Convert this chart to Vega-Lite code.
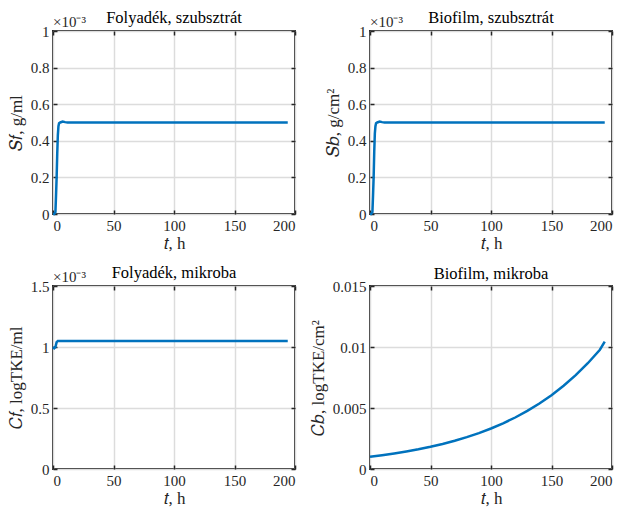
{
  "$schema": "https://vega.github.io/schema/vega-lite/v6.json",
  "padding": {"left": 6, "top": 8, "right": 5, "bottom": 5},
  "background": "white",
  "datasets": {
    "sf": [
      {"t": 0, "v": 0}, {"t": 1, "v": 0}, {"t": 2, "v": 0.00001}, {"t": 2.5, "v": 0.0001}, {"t": 3, "v": 0.0002},
      {"t": 3.5, "v": 0.00033}, {"t": 4, "v": 0.00043}, {"t": 4.5, "v": 0.00048}, {"t": 5, "v": 0.000496},
      {"t": 6, "v": 0.0005}, {"t": 8, "v": 0.000505}, {"t": 10, "v": 0.000502}, {"t": 12, "v": 0.0005},
      {"t": 50, "v": 0.0005}, {"t": 100, "v": 0.0005}, {"t": 150, "v": 0.0005}, {"t": 194, "v": 0.0005}
    ],
    "sb": [
      {"t": 0, "v": 0}, {"t": 1, "v": 0}, {"t": 2, "v": 0.00001}, {"t": 2.5, "v": 0.0001}, {"t": 3, "v": 0.0002},
      {"t": 3.5, "v": 0.00034}, {"t": 4, "v": 0.00044}, {"t": 4.5, "v": 0.00048}, {"t": 5, "v": 0.000496},
      {"t": 6, "v": 0.0005}, {"t": 8, "v": 0.000505}, {"t": 10, "v": 0.000502}, {"t": 12, "v": 0.0005},
      {"t": 50, "v": 0.0005}, {"t": 100, "v": 0.0005}, {"t": 150, "v": 0.0005}, {"t": 194, "v": 0.0005}
    ],
    "cf": [
      {"t": 0, "v": 0.001}, {"t": 1, "v": 0.00099}, {"t": 2, "v": 0.001}, {"t": 3, "v": 0.00104},
      {"t": 4, "v": 0.00105}, {"t": 6, "v": 0.00105}, {"t": 50, "v": 0.00105}, {"t": 100, "v": 0.00105},
      {"t": 150, "v": 0.00105}, {"t": 194, "v": 0.00105}
    ],
    "cb": [
      {"t": 0, "v": 0.001}, {"t": 10, "v": 0.001127}, {"t": 20, "v": 0.001271}, {"t": 30, "v": 0.001433},
      {"t": 40, "v": 0.001616}, {"t": 50, "v": 0.001822}, {"t": 60, "v": 0.002054}, {"t": 70, "v": 0.002316},
      {"t": 80, "v": 0.002612}, {"t": 90, "v": 0.002945}, {"t": 100, "v": 0.00332}, {"t": 110, "v": 0.003743},
      {"t": 120, "v": 0.004221}, {"t": 130, "v": 0.004759}, {"t": 140, "v": 0.005366}, {"t": 150, "v": 0.00605},
      {"t": 160, "v": 0.006821}, {"t": 170, "v": 0.007691}, {"t": 180, "v": 0.008671}, {"t": 190, "v": 0.009777},
      {"t": 194, "v": 0.01045}
    ],
    "exp": [{"t": 0, "v": 0.001, "label": "×10⁻³"}],
    "exp15": [{"t": 0, "v": 0.0015, "label": "×10⁻³"}],
    "none": [{"t": 0, "v": 0.015, "label": ""}]
  },
  "columns": 2,
  "spacing": {"row": 72, "column": 75},
  "bounds": "flush",
  "concat": [
    {
      "width": 242, "height": 183,
      "title": "Folyadék, szubsztrát",
      "resolve": {"axis": {"x": "independent", "y": "independent"}},
      "layer": [
        {
          "data": {"name": "sf"},
          "mark": {"type": "line", "color": "#0072BD", "strokeWidth": 2.5},
          "encoding": {
            "x": {"field": "t", "type": "quantitative", "scale": {"domain": [0, 200], "nice": false}, "axis": {"values": [0, 50, 100, 150, 200], "title": "𝑡, h"}},
            "y": {"field": "v", "type": "quantitative", "scale": {"domain": [0, 0.001], "nice": false}, "axis": {"values": [0, 0.0002, 0.0004, 0.0006, 0.0008, 0.001], "labelExpr": "format(datum.value*1000, '~g')", "title": "𝑆𝑓, g/ml"}}
          }
        },
        {
          "data": {"name": "exp"},
          "mark": {"type": "text", "align": "left", "baseline": "bottom", "dy": -1, "fontSize": 15, "color": "#262626"},
          "encoding": {
            "x": {"field": "t", "type": "quantitative", "axis": {"orient": "top", "labels": false, "grid": false, "title": null, "values": [0, 50, 100, 150, 200]}},
            "y": {"field": "v", "type": "quantitative", "axis": {"orient": "right", "labels": false, "grid": false, "title": null, "values": [0, 0.0002, 0.0004, 0.0006, 0.0008, 0.001]}},
            "text": {"field": "label"}
          }
        }
      ]
    },
    {
      "width": 242, "height": 183,
      "title": "Biofilm, szubsztrát",
      "resolve": {"axis": {"x": "independent", "y": "independent"}},
      "layer": [
        {
          "data": {"name": "sb"},
          "mark": {"type": "line", "color": "#0072BD", "strokeWidth": 2.5},
          "encoding": {
            "x": {"field": "t", "type": "quantitative", "scale": {"domain": [0, 200], "nice": false}, "axis": {"values": [0, 50, 100, 150, 200], "title": "𝑡, h"}},
            "y": {"field": "v", "type": "quantitative", "scale": {"domain": [0, 0.001], "nice": false}, "axis": {"values": [0, 0.0002, 0.0004, 0.0006, 0.0008, 0.001], "labelExpr": "format(datum.value*1000, '~g')", "title": "𝑆𝑏, g/cm²"}}
          }
        },
        {
          "data": {"name": "exp"},
          "mark": {"type": "text", "align": "left", "baseline": "bottom", "dy": -1, "fontSize": 15, "color": "#262626"},
          "encoding": {
            "x": {"field": "t", "type": "quantitative", "axis": {"orient": "top", "labels": false, "grid": false, "title": null, "values": [0, 50, 100, 150, 200]}},
            "y": {"field": "v", "type": "quantitative", "axis": {"orient": "right", "labels": false, "grid": false, "title": null, "values": [0, 0.0002, 0.0004, 0.0006, 0.0008, 0.001]}},
            "text": {"field": "label"}
          }
        }
      ]
    },
    {
      "width": 242, "height": 183,
      "title": "Folyadék, mikroba",
      "resolve": {"axis": {"x": "independent", "y": "independent"}},
      "layer": [
        {
          "data": {"name": "cf"},
          "mark": {"type": "line", "color": "#0072BD", "strokeWidth": 2.5},
          "encoding": {
            "x": {"field": "t", "type": "quantitative", "scale": {"domain": [0, 200], "nice": false}, "axis": {"values": [0, 50, 100, 150, 200], "title": "𝑡, h"}},
            "y": {"field": "v", "type": "quantitative", "scale": {"domain": [0, 0.0015], "nice": false}, "axis": {"values": [0, 0.0005, 0.001, 0.0015], "labelExpr": "format(datum.value*1000, '~g')", "title": "𝐶𝑓, logTKE/ml"}}
          }
        },
        {
          "data": {"name": "exp15"},
          "mark": {"type": "text", "align": "left", "baseline": "bottom", "dy": -1, "fontSize": 15, "color": "#262626"},
          "encoding": {
            "x": {"field": "t", "type": "quantitative", "axis": {"orient": "top", "labels": false, "grid": false, "title": null, "values": [0, 50, 100, 150, 200]}},
            "y": {"field": "v", "type": "quantitative", "axis": {"orient": "right", "labels": false, "grid": false, "title": null, "values": [0, 0.0005, 0.001, 0.0015]}},
            "text": {"field": "label"}
          }
        }
      ]
    },
    {
      "width": 242, "height": 183,
      "title": "Biofilm, mikroba",
      "resolve": {"axis": {"x": "independent", "y": "independent"}},
      "layer": [
        {
          "data": {"name": "cb"},
          "mark": {"type": "line", "color": "#0072BD", "strokeWidth": 2.5},
          "encoding": {
            "x": {"field": "t", "type": "quantitative", "scale": {"domain": [0, 200], "nice": false}, "axis": {"values": [0, 50, 100, 150, 200], "title": "𝑡, h"}},
            "y": {"field": "v", "type": "quantitative", "scale": {"domain": [0, 0.015], "nice": false}, "axis": {"values": [0, 0.005, 0.01, 0.015], "labelExpr": "datum.value == 0 ? '0' : format(datum.value, '.3~f')", "title": "𝐶𝑏, logTKE/cm²"}}
          }
        },
        {
          "data": {"name": "none"},
          "mark": {"type": "text", "align": "left", "baseline": "bottom", "fontSize": 15},
          "encoding": {
            "x": {"field": "t", "type": "quantitative", "axis": {"orient": "top", "labels": false, "grid": false, "title": null, "values": [0, 50, 100, 150, 200]}},
            "y": {"field": "v", "type": "quantitative", "axis": {"orient": "right", "labels": false, "grid": false, "title": null, "values": [0, 0.005, 0.01, 0.015]}},
            "text": {"field": "label"}
          }
        }
      ]
    }
  ],
  "config": {
    "font": "Liberation Serif",
    "view": {"stroke": "#262626", "strokeWidth": 2},
    "title": {"fontSize": 16.5, "fontWeight": "normal", "color": "#000000", "offset": -11, "frame": "group"},
    "axis": {
      "domain": false,
      "grid": true,
      "gridColor": "#dcdcdc",
      "gridWidth": 1.5,
      "ticks": true,
      "tickColor": "#262626",
      "tickSize": -4,
      "tickWidth": 1.5,
      "labelFontSize": 15,
      "labelColor": "#262626",
      "labelPadding": 8,
      "titleFontSize": 17,
      "titleFontWeight": "normal",
      "titleColor": "#262626",
      "titlePadding": 5
    },
    "axisX": {"titlePadding": 2}
  }
}
